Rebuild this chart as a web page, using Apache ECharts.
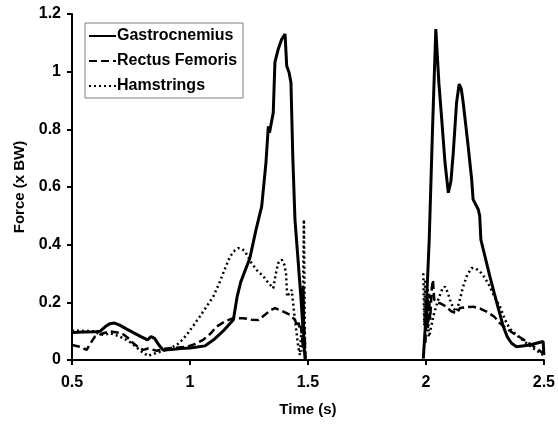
<!DOCTYPE html>
<html>
<head>
<meta charset="utf-8">
<script src="https://cdn.jsdelivr.net/npm/echarts@6/dist/echarts.min.js"></script>
<style>
  html, body { margin: 0; padding: 0; background: #fff; }
  #chart { width: 558px; height: 425px; }
</style>
</head>
<body>
<div id="chart"></div>
<script>
// Muscle force (body-weight multiples) over time; null marks the flight gap.
const gastroTime = [0.5, 0.55, 0.6, 0.62, 0.64, 0.66, 0.68, 0.70, 0.73, 0.76, 0.79, 0.82, 0.835, 0.85, 0.87, 0.886, 0.92, 0.96, 1.0, 1.03, 1.064, 1.1, 1.14, 1.184, 1.2, 1.215, 1.254, 1.28, 1.304, 1.322, 1.332, 1.337, 1.353, 1.36, 1.374, 1.389, 1.396, 1.403, 1.41, 1.42, 1.428, 1.436, 1.445, 1.47, 1.478, 1.48, 1.482, 1.488,
  1.75,
  1.989, 2.0, 2.014, 2.028, 2.042, 2.055, 2.067, 2.081, 2.095, 2.106, 2.116, 2.13, 2.141, 2.15, 2.158, 2.179, 2.194, 2.2, 2.222, 2.228, 2.233, 2.25, 2.271, 2.3, 2.328, 2.345, 2.363, 2.384, 2.44, 2.497, 2.5];
const gastroForce = [0.095, 0.097, 0.098, 0.100, 0.115, 0.126, 0.128, 0.122, 0.108, 0.095, 0.082, 0.070, 0.081, 0.075, 0.050, 0.035, 0.036, 0.040, 0.042, 0.045, 0.049, 0.070, 0.100, 0.140, 0.220, 0.270, 0.354, 0.452, 0.533, 0.684, 0.810, 0.788, 0.858, 1.032, 1.078, 1.113, 1.110, 1.130, 1.020, 0.997, 0.962, 0.700, 0.487, 0.220, 0.120, 0.255, 0.060, 0.005,
  null,
  0.005, 0.150, 0.417, 0.800, 1.148, 0.960, 0.835, 0.684, 0.580, 0.620, 0.719, 0.893, 0.957, 0.940, 0.893, 0.742, 0.626, 0.557, 0.522, 0.500, 0.417, 0.360, 0.290, 0.200, 0.116, 0.080, 0.058, 0.046, 0.052, 0.064, 0.017];

const rectusTime = [0.5, 0.534, 0.562, 0.58, 0.597, 0.633, 0.661, 0.71, 0.735, 0.76, 0.785, 0.802, 0.823, 0.859, 0.901, 0.95, 0.986, 1.02, 1.056, 1.085, 1.113, 1.15, 1.184, 1.226, 1.26, 1.29, 1.318, 1.34, 1.36, 1.39, 1.424, 1.445, 1.455, 1.46, 1.465, 1.47, 1.478, 1.485, 1.49,
  1.75,
  1.998, 2.003, 2.008, 2.013, 2.018, 2.025, 2.03, 2.035, 2.045, 2.059, 2.075, 2.088, 2.105, 2.13, 2.144, 2.17, 2.2, 2.23, 2.257, 2.29, 2.314, 2.34, 2.37, 2.4, 2.427, 2.46, 2.497];
const rectusForce = [0.052, 0.046, 0.035, 0.060, 0.081, 0.093, 0.099, 0.093, 0.078, 0.058, 0.042, 0.035, 0.040, 0.032, 0.040, 0.043, 0.046, 0.055, 0.070, 0.090, 0.116, 0.135, 0.145, 0.145, 0.140, 0.139, 0.157, 0.172, 0.180, 0.170, 0.157, 0.139, 0.116, 0.130, 0.110, 0.120, 0.050, 0.110, 0.000,
  null,
  0.060, 0.200, 0.110, 0.230, 0.140, 0.250, 0.278, 0.210, 0.200, 0.197, 0.190, 0.185, 0.170, 0.162, 0.180, 0.183, 0.185, 0.178, 0.168, 0.150, 0.127, 0.110, 0.093, 0.078, 0.064, 0.045, 0.023];

const hamTime = [0.5, 0.55, 0.59, 0.61, 0.633, 0.661, 0.68, 0.703, 0.73, 0.753, 0.775, 0.795, 0.823, 0.84, 0.859, 0.88, 0.901, 0.944, 0.965, 0.986, 1.015, 1.042, 1.07, 1.099, 1.127, 1.15, 1.17, 1.19, 1.205, 1.22, 1.233, 1.261, 1.285, 1.311, 1.33, 1.353, 1.364, 1.374, 1.389, 1.4, 1.407, 1.412, 1.42, 1.431, 1.445, 1.459, 1.466, 1.472, 1.476, 1.483, 1.488,
  1.75,
  1.989, 1.993, 1.997, 2.002, 2.007, 2.012, 2.017, 2.031, 2.052, 2.066, 2.08, 2.092, 2.102, 2.116, 2.13, 2.144, 2.158, 2.175, 2.194, 2.21, 2.229, 2.25, 2.271, 2.29, 2.314, 2.328, 2.342, 2.36, 2.384, 2.405, 2.427, 2.46, 2.497];
const hamForce = [0.102, 0.101, 0.100, 0.092, 0.087, 0.093, 0.088, 0.081, 0.070, 0.058, 0.043, 0.029, 0.014, 0.020, 0.025, 0.030, 0.035, 0.052, 0.068, 0.087, 0.120, 0.151, 0.185, 0.220, 0.272, 0.320, 0.359, 0.380, 0.388, 0.385, 0.377, 0.336, 0.310, 0.290, 0.270, 0.249, 0.300, 0.336, 0.348, 0.330, 0.301, 0.220, 0.230, 0.243, 0.139, 0.046, 0.017, 0.100, 0.030, 0.487, 0.000,
  null,
  0.301, 0.120, 0.280, 0.100, 0.250, 0.080, 0.093, 0.151, 0.209, 0.240, 0.255, 0.235, 0.209, 0.180, 0.168, 0.210, 0.255, 0.295, 0.319, 0.318, 0.307, 0.285, 0.255, 0.220, 0.185, 0.155, 0.127, 0.105, 0.087, 0.072, 0.058, 0.038, 0.017];

const xTicks = { min: 0.5, max: 2.5, step: 0.5 };
const yTicks = { min: 0, max: 1.2, step: 0.2 };

const pairs = (t, f) => t.map((x, i) => [x, f[i]]);

const font = 'Liberation Sans, Arial, sans-serif';
const chart = echarts.init(document.getElementById('chart'), null, { renderer: 'canvas' });

chart.setOption({
  backgroundColor: '#ffffff',
  animation: false,
  grid: { left: 72, right: 14, top: 14, bottom: 65, containLabel: false },
  legend: {
    orient: 'vertical',
    left: 85,
    top: 23,
    padding: [4, 6, 3, 3],
    itemGap: 7,
    itemWidth: 27,
    itemHeight: 14,
    itemStyle: { opacity: 0 },
    borderColor: '#7f7f7f',
    borderWidth: 1,
    textStyle: { fontFamily: font, fontWeight: 'bold', fontSize: 16, color: '#000', padding: [0, 0, 0, -4], lineHeight: 18 },
    data: ['Gastrocnemius', 'Rectus Femoris', 'Hamstrings']
  },
  xAxis: {
    type: 'value',
    min: xTicks.min,
    max: xTicks.max,
    interval: xTicks.step,
    name: 'Time (s)',
    nameLocation: 'middle',
    nameGap: 42,
    nameTextStyle: { fontFamily: font, fontWeight: 'bold', fontSize: 15, color: '#000' },
    axisLine: { show: true, onZero: false, lineStyle: { color: '#000', width: 2 } },
    axisTick: { show: true, inside: false, length: 5, lineStyle: { color: '#000', width: 2 } },
    axisLabel: { fontFamily: font, fontWeight: 'bold', fontSize: 16, color: '#000', margin: 15 },
    splitLine: { show: false }
  },
  yAxis: {
    type: 'value',
    min: yTicks.min,
    max: yTicks.max,
    interval: yTicks.step,
    name: 'Force (x BW)',
    nameLocation: 'middle',
    nameGap: 45,
    nameTextStyle: { fontFamily: font, fontWeight: 'bold', fontSize: 15, color: '#000' },
    axisLine: { show: true, lineStyle: { color: '#000', width: 2 } },
    axisTick: { show: true, inside: false, length: 5, lineStyle: { color: '#000', width: 2 } },
    axisLabel: { fontFamily: font, fontWeight: 'bold', fontSize: 16, color: '#000', margin: 11 },
    splitLine: { show: false }
  },
  series: [
    {
      name: 'Gastrocnemius',
      type: 'line',
      data: pairs(gastroTime, gastroForce),
      symbol: 'none',
      connectNulls: false,
      lineStyle: { color: '#000', width: 3, type: 'solid' },
      itemStyle: { color: '#000' },
      z: 3
    },
    {
      name: 'Rectus Femoris',
      type: 'line',
      data: pairs(rectusTime, rectusForce),
      symbol: 'none',
      connectNulls: false,
      lineStyle: { color: '#000', width: 2.5, type: [8, 4] },
      itemStyle: { color: '#000' },
      z: 2
    },
    {
      name: 'Hamstrings',
      type: 'line',
      data: pairs(hamTime, hamForce),
      symbol: 'none',
      connectNulls: false,
      lineStyle: { color: '#000', width: 2.5, type: [2, 3] },
      itemStyle: { color: '#000' },
      z: 1
    }
  ]
});
</script>
</body>
</html>
